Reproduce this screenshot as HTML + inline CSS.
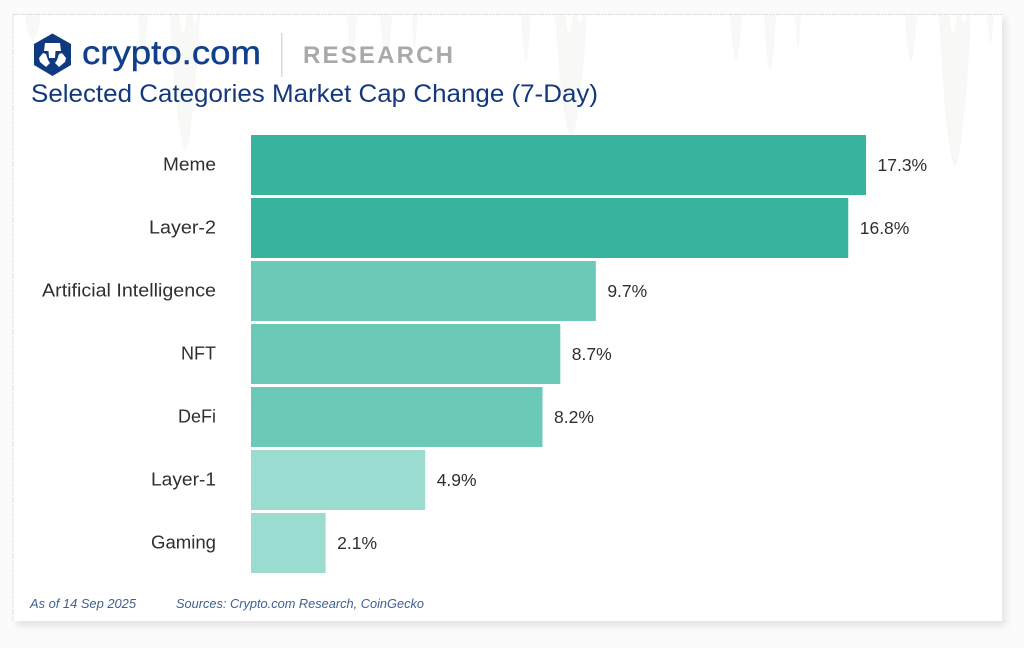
<!DOCTYPE html>
<html lang="en">
<head>
<meta charset="utf-8">
<title>Selected Categories Market Cap Change (7-Day)</title>
<style>
html,body{margin:0;padding:0;width:1024px;height:648px;overflow:hidden;background:#fbfbfb;}
svg{display:block;font-family:"Liberation Sans",sans-serif;}
</style>
</head>
<body>
<svg id="chart" width="1024" height="648" viewBox="0 0 1024 648" xmlns="http://www.w3.org/2000/svg">
  <defs>
    <filter id="cardShadow" x="-5%" y="-5%" width="110%" height="110%">
      <feGaussianBlur stdDeviation="3.5"/>
    </filter>
  </defs>
  <rect x="17" y="18" width="989" height="608" fill="#e4e4e4" filter="url(#cardShadow)"/>
  <rect x="13" y="14" width="989" height="607" fill="#ffffff"/>
  <g id="watermark" fill="#f8f8f6"></g>
  <g id="watermarkNotches" fill="#ffffff"></g>
  <path d="M13 14.500H1002M13 14V621" fill="none" stroke="#e2e2e2" stroke-width="1" stroke-dasharray="6 1"/>

  <g>
    <polygon points="52.500,33.500 71,44 71,65 52.500,76 34,65 34,44" fill="#0f3a80"/>
    <path d="M45 43h15l1 8h-5.500l-.5 7h-6l-.5-7H44z" fill="#ffffff"/>
    <path d="M43 53l3 1 2 6 2 3-4 4-6-5-1-4z" fill="#ffffff"/>
    <path d="M62 53l-3 1-2 6-2 3 4 4 6-5 1-4z" fill="#ffffff"/>
    <text x="82" y="64" font-size="33" fill="#103f8c" stroke="#103f8c" stroke-width="0.4" textLength="179" lengthAdjust="spacingAndGlyphs">crypto.com</text>
  </g>
  <rect x="281" y="33" width="1.500" height="44" fill="#d9d9d9"/>
  <text x="303" y="63" font-size="24" font-weight="700" fill="#a9a9a9" textLength="150" lengthAdjust="spacing">RESEARCH</text>

  <text x="31" y="102" font-size="25" fill="#13397c" textLength="567" lengthAdjust="spacingAndGlyphs">Selected Categories Market Cap Change (7-Day)</text>

  <g id="bars"></g>
  <g id="categories"></g>
  <g id="values"></g>

  <text x="30" y="608" font-size="13" font-style="italic" fill="#3f5f95" textLength="106" lengthAdjust="spacingAndGlyphs">As of 14 Sep 2025</text>
  <text x="176" y="608" font-size="13" font-style="italic" fill="#3f5f95" textLength="248" lengthAdjust="spacingAndGlyphs">Sources: Crypto.com Research, CoinGecko</text>
</svg>
<script>
const categories = ["Meme", "Layer-2", "Artificial Intelligence", "NFT", "DeFi", "Layer-1", "Gaming"];
const changes = [17.3, 16.8, 9.7, 8.7, 8.2, 4.9, 2.1];
const categoryWidths = {"Meme": 53, "Layer-2": 67, "Artificial Intelligence": 174, "NFT": 35, "DeFi": 38, "Layer-1": 65, "Gaming": 65};

const NS = "http://www.w3.org/2000/svg";
const xZero = 251, pxPerUnit = 35.55, bandTop = 135, bandStep = 63, barHeight = 60;
function xScale(v) { return xZero + v * pxPerUnit; }
function yScale(i) { return bandTop + i * bandStep; }
function barColor(v) { return v >= 10 ? "#38b49e" : v >= 5 ? "#6bc9b8" : "#9cdbd0"; }

const barsG = document.getElementById("bars");
const catsG = document.getElementById("categories");
const valsG = document.getElementById("values");

categories.forEach(function (name, i) {
  const v = changes[i];
  const rect = document.createElementNS(NS, "rect");
  rect.setAttribute("x", xZero);
  rect.setAttribute("y", yScale(i));
  rect.setAttribute("width", xScale(v) - xZero);
  rect.setAttribute("height", barHeight);
  rect.setAttribute("fill", barColor(v));
  
  
  barsG.appendChild(rect);

  const label = document.createElementNS(NS, "text");
  label.setAttribute("x", 216);
  label.setAttribute("y", yScale(i) + 35.5);
  label.setAttribute("text-anchor", "end");
  label.setAttribute("font-size", "18");
  label.setAttribute("fill", "#2f2f33");
  label.setAttribute("textLength", categoryWidths[name]);
  label.setAttribute("lengthAdjust", "spacingAndGlyphs");
  
  
  label.textContent = name;
  catsG.appendChild(label);

  const val = document.createElementNS(NS, "text");
  val.setAttribute("x", xScale(v) + 11.5);
  val.setAttribute("y", yScale(i) + 36);
  val.setAttribute("font-size", "17.5");
  val.setAttribute("fill", "#2f2f33");
  
  
  val.textContent = v.toFixed(1) + "%";
  valsG.appendChild(val);
});

const drips = [[33,8,26],[143,5,46],[185,15,134],[352,5,46],[386,6,46],[414.5,3,32],[526,5,46],[571,16,121],[736,6,46],[770,6,56],[798,3,32],[911,6,46],[955,16,151],[990.5,3.5,28]];
const notches = [[183,3.500,18],[195,3,8],[569,3.500,18],[580,3,8],[953,3.500,18],[964,3,8]];
const topEdge = 15;
function dripPath(cx, hw, h) {
  return "M" + (cx - hw) + " " + topEdge + " C" + (cx - hw * 0.8) + " " + (topEdge + h * 0.5) + " " + (cx - hw * 0.35) + " " + (topEdge + h) + " " + cx + " " + (topEdge + h) + " C" + (cx + hw * 0.35) + " " + (topEdge + h) + " " + (cx + hw * 0.8) + " " + (topEdge + h * 0.5) + " " + (cx + hw) + " " + topEdge + "Z";
}
const wm = document.getElementById("watermark");
drips.forEach(function (d) {
  const p = document.createElementNS(NS, "path");
  p.setAttribute("d", dripPath(d[0], d[1], d[2]));
  
  
  wm.appendChild(p);
});
const wn = document.getElementById("watermarkNotches");
notches.forEach(function (d) {
  const p = document.createElementNS(NS, "path");
  p.setAttribute("d", dripPath(d[0], d[1], d[2]));
  
  
  wn.appendChild(p);
});
</script>
</body>
</html>
